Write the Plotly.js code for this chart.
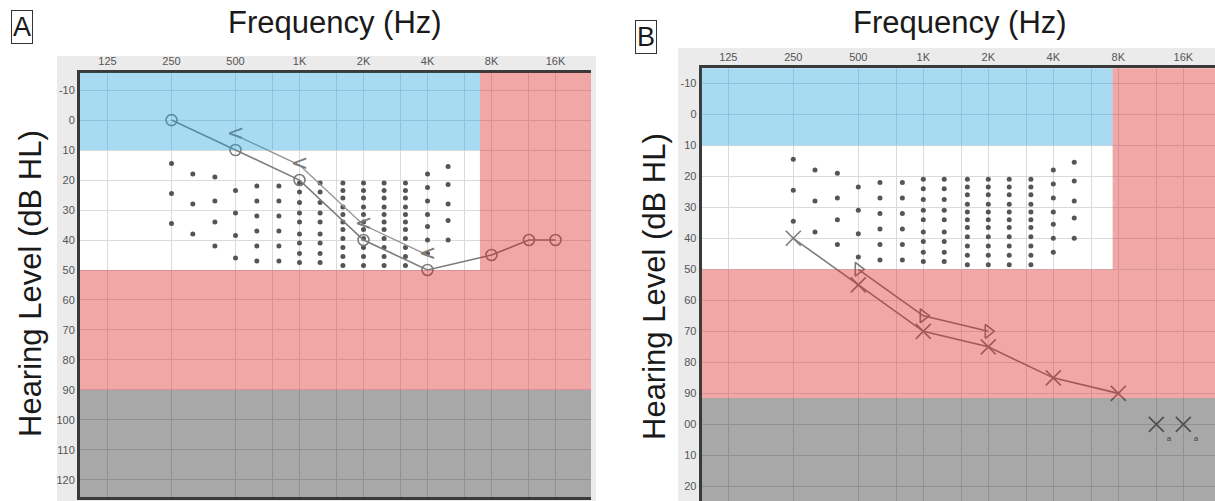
<!DOCTYPE html>
<html>
<head>
<meta charset="utf-8">
<script src="https://cdn.plot.ly/plotly-3.0.1.min.js"></script>
<style>
  html, body { margin: 0; padding: 0; background: #ffffff; }
  #chart { width: 1215px; height: 501px; }
</style>
</head>
<body>
<div id="chart"></div>
<script>
// ---------- data ----------
const freqTicks  = [125, 250, 500, 750, 1000, 1500, 2000, 3000, 4000, 6000, 8000, 12000, 16000];
const freqLabels = ['125', '250', '500', '', '1K', '', '2K', '', '4K', '', '8K', '', '16K'];
const levelTicks = [-10, 0, 10, 20, 30, 40, 50, 60, 70, 80, 90, 100, 110, 120];
const levelLabelsA = ['-10', '0', '10', '20', '30', '40', '50', '60', '70', '80', '90', '100', '110', '120'];
const levelLabelsB = ['-10', '0', '10', '20', '30', '40', '50', '60', '70', '80', '90', '00', '10', '20'];

// Panel A
const airA_freq  = [250, 500, 1000, 2000, 4000, 8000, 12000, 16000];
const airA_db    = [0, 10, 20, 40, 50, 45, 40, 40];
const boneA_freq = [500, 1000, 2000, 4000];
const boneA_db   = [5, 15, 35, 45];
const boneA_sym  = ['<', '<', '<', '<'];

// Panel B
const airB_freq  = [250, 500, 1000, 2000, 4000, 8000];
const airB_db    = [40, 55, 70, 75, 85, 90];
const boneB_freq = [500, 1000, 2000];
const boneB_db   = [50, 65, 70];
const noRespB_freq = [12000, 16000];
const noRespB_db   = [100, 100];
const noRespB_text = ['a', 'a'];

// Speech banana dots (same in both panels)
const bananaFreq = [250, 315, 400, 500, 630, 800, 1000, 1250, 1600, 2000, 2500, 3150, 4000, 5000];
const bananaLevels = [
  [14.5, 24.5, 34.5],
  [18, 28, 38],
  [19, 27, 34, 42],
  [23.5, 31, 38.5, 46],
  [22, 27, 32, 37, 42, 47],
  [22, 27, 32, 37, 42, 47],
  [21, 24, 27.5, 31, 34, 38, 41, 44.5, 47.5],
  [21, 24, 27.5, 31, 34, 38, 41, 44.5, 47.5],
  [21, 23.5, 26, 29, 31.5, 34, 36.5, 39.5, 42.5, 45.5, 48.5],
  [21, 23.5, 26, 29, 31.5, 34, 36.5, 39.5, 42.5, 45.5, 48.5],
  [21, 23.5, 26, 29, 31.5, 34, 36.5, 39.5, 42.5, 45.5, 48.5],
  [21, 23.5, 26, 29, 31.5, 34, 36.5, 39.5, 42.5, 45.5, 48.5],
  [18, 22.5, 27, 31.5, 35.5, 40, 44.5],
  [15.5, 21.5, 28, 33.5, 40]
];

// Zone boundaries (dB) and start of the high-frequency column (Hz)
const zoneLevelsA = [10, 50, 90];
const zoneLevelsB = [10, 50, 91.5];
const highFreqStartA = 7060;
const highFreqStartB = 7530;

// ---------- build ----------
const W = 1215, H = 501;
const px = v => v / W;
const py = v => 1 - v / H;

const bx = [], by = [];
bananaFreq.forEach((f, i) => bananaLevels[i].forEach(l => { bx.push(f); by.push(l); }));

const lineGray = '#7c7c7c';
const dotStyle = { color: '#555555', size: 5 };

const traces = [
  // Panel A
  { x: bx, y: by, xaxis: 'x', yaxis: 'y', mode: 'markers', marker: dotStyle, hoverinfo: 'skip' },
  { x: airA_freq, y: airA_db, xaxis: 'x', yaxis: 'y', mode: 'lines+markers',
    line: { color: lineGray, width: 1.6 },
    marker: { symbol: 'circle-open', size: 11, color: lineGray, line: { width: 1.6, color: lineGray } } },
  { x: boneA_freq, y: boneA_db, xaxis: 'x', yaxis: 'y', mode: 'lines+text', text: boneA_sym,
    textposition: 'middle center', textfont: { family: 'DejaVu Sans', size: 21, color: lineGray },
    line: { color: '#959595', width: 1.4 } },
  // Panel B
  { x: bx, y: by, xaxis: 'x2', yaxis: 'y2', mode: 'markers', marker: dotStyle, hoverinfo: 'skip' },
  { x: airB_freq, y: airB_db, xaxis: 'x2', yaxis: 'y2', mode: 'lines+markers',
    line: { color: lineGray, width: 1.6 },
    marker: { symbol: 'x-thin-open', size: 15, color: lineGray, line: { width: 1.6, color: lineGray } } },
  { x: boneB_freq, y: boneB_db, xaxis: 'x2', yaxis: 'y2', mode: 'lines+markers',
    line: { color: lineGray, width: 1.6 },
    marker: { symbol: 'triangle-right-open', size: 12, color: lineGray, line: { width: 1.6, color: lineGray } } },
  { x: noRespB_freq, y: noRespB_db, xaxis: 'x2', yaxis: 'y2', mode: 'markers+text', text: noRespB_text,
    textposition: 'bottom right', textfont: { family: 'Liberation Sans', size: 8, color: '#555' },
    marker: { symbol: 'x-thin-open', size: 15, color: '#6a6a6a', line: { width: 1.6, color: '#6a6a6a' } } }
];

const tickFont = { family: 'Liberation Sans Narrow, Liberation Sans, Arial', size: 11, color: '#555' };

function xAxis(domain, range, anchor) {
  return {
    type: 'log', side: 'top', domain: domain, range: range, anchor: anchor,
    tickmode: 'array', tickvals: freqTicks, ticktext: freqLabels, ticks: '',
    tickfont: tickFont, showgrid: true, gridcolor: '#d6dbe0', gridwidth: 1,
    showline: true, linecolor: '#3a3a3a', linewidth: 3, mirror: true,
    zeroline: false, fixedrange: true
  };
}
function yAxis(domain, range, anchor, labels) {
  return {
    domain: domain, range: range, anchor: anchor,
    tickmode: 'array', tickvals: levelTicks, ticktext: labels, ticks: '',
    tickfont: tickFont, showgrid: true, gridcolor: '#d6dbe0', gridwidth: 1,
    showline: true, linecolor: '#3a3a3a', linewidth: 3,
    zeroline: false, fixedrange: true
  };
}

const blueC = 'rgb(38,162,222)';
const redC  = 'rgb(222,34,34)';
const grayC = 'rgb(38,38,38)';

function zoneShapes(xr, yr, levels, hiStart) {
  const lo = 30, hi = 40000, top = -40, bot = 200;
  const base = { xref: xr, yref: yr, layer: 'above', opacity: 0.4, line: { width: 0 } };
  return [
    Object.assign({}, base, { type: 'rect', x0: lo, x1: hiStart, y0: top, y1: levels[0], fillcolor: blueC }),
    Object.assign({}, base, { type: 'rect', x0: hiStart, x1: hi, y0: top, y1: levels[1], fillcolor: redC }),
    Object.assign({}, base, { type: 'rect', x0: lo, x1: hi, y0: levels[1], y1: levels[2], fillcolor: redC }),
    Object.assign({}, base, { type: 'rect', x0: lo, x1: hi, y0: levels[2], y1: bot, fillcolor: grayC })
  ];
}

const shapes = [
  // light gray frames behind the panels
  { type: 'rect', xref: 'paper', yref: 'paper', layer: 'below', x0: px(57), x1: px(596), y0: py(501), y1: py(56),
    fillcolor: '#ebebeb', line: { width: 0 } },
  { type: 'rect', xref: 'paper', yref: 'paper', layer: 'below', x0: px(678), x1: px(1215), y0: py(501), y1: py(48),
    fillcolor: '#ebebeb', line: { width: 0 } },
  // white plot backgrounds
  { type: 'rect', xref: 'x', yref: 'y', layer: 'below', x0: 30, x1: 40000, y0: -40, y1: 200, fillcolor: '#ffffff', line: { width: 0 } },
  { type: 'rect', xref: 'x2', yref: 'y2', layer: 'below', x0: 30, x1: 40000, y0: -40, y1: 200, fillcolor: '#ffffff', line: { width: 0 } }
].concat(zoneShapes('x', 'y', zoneLevelsA, highFreqStartA))
 .concat(zoneShapes('x2', 'y2', zoneLevelsB, highFreqStartB));

const titleFont = { family: 'Liberation Sans, Arial', size: 31, color: '#1a1a1a' };
const letterFont = { family: 'Liberation Sans, Arial', size: 27, color: '#1a1a1a' };

const annotations = [
  { text: 'Frequency (Hz)', xref: 'paper', yref: 'paper', x: px(335), y: py(23), xanchor: 'center', yanchor: 'middle', showarrow: false, font: titleFont },
  { text: 'Frequency (Hz)', xref: 'paper', yref: 'paper', x: px(960), y: py(23), xanchor: 'center', yanchor: 'middle', showarrow: false, font: titleFont },
  { text: 'Hearing Level (dB HL)', xref: 'paper', yref: 'paper', x: px(30), y: py(284), xanchor: 'center', yanchor: 'middle', textangle: -90, showarrow: false, font: titleFont },
  { text: 'Hearing Level (dB HL)', xref: 'paper', yref: 'paper', x: px(654), y: py(287), xanchor: 'center', yanchor: 'middle', textangle: -90, showarrow: false, font: titleFont },
  { text: 'A', xref: 'paper', yref: 'paper', x: px(22), y: py(27), xanchor: 'center', yanchor: 'middle', showarrow: false,
    font: letterFont, bordercolor: '#333', borderwidth: 1, borderpad: 1, bgcolor: '#ffffff' },
  { text: 'B', xref: 'paper', yref: 'paper', x: px(646), y: py(37), xanchor: 'center', yanchor: 'middle', showarrow: false,
    font: letterFont, bordercolor: '#333', borderwidth: 1, borderpad: 1, bgcolor: '#ffffff' }
];

const layout = {
  width: W, height: H,
  margin: { l: 0, r: 0, t: 0, b: 0, pad: 0 },
  paper_bgcolor: '#ffffff', plot_bgcolor: '#ffffff',
  showlegend: false,
  xaxis:  xAxis([px(80), px(591)], [1.96756, 4.3711], 'y'),
  yaxis:  yAxis([1 - 497 / H, py(72.7)], [125.7, -15.8], 'x', levelLabelsA),
  xaxis2: xAxis([px(701.7), 1], [1.97372, 4.35093], 'y2'),
  yaxis2: yAxis([0, py(68.3)], [124.7, -14.8], 'x2', levelLabelsB),
  shapes: shapes,
  annotations: annotations
};

Plotly.newPlot('chart', traces, layout, { staticPlot: true, displayModeBar: false });
</script>
</body>
</html>
